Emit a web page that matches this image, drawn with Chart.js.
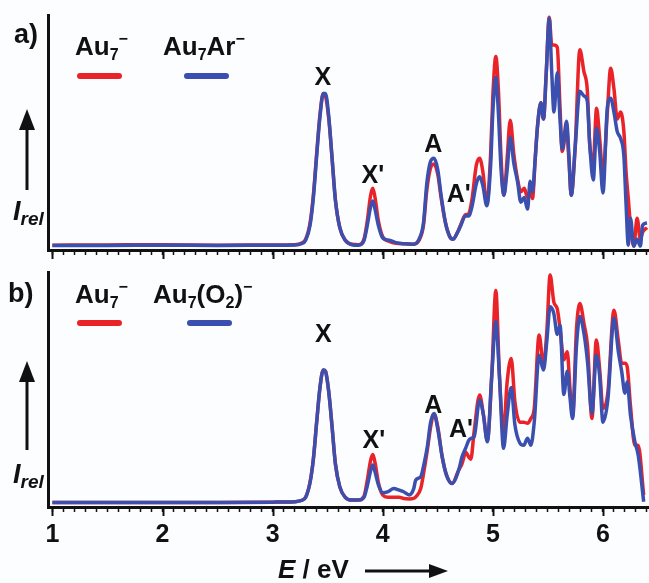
<!DOCTYPE html>
<html>
<head>
<meta charset="utf-8">
<script src="https://cdn.jsdelivr.net/npm/chart.js@4.4.0/dist/chart.umd.min.js"></script>
<style>
  body { margin: 0; background: #fcfdfe; }
  #wrap { position: relative; width: 649px; height: 583px; overflow: hidden;
          font-family: "Liberation Sans", Arial, sans-serif; font-weight: bold; color: #111; }
  canvas { position: absolute; left: 0; }
  .txt { position: absolute; font-size: 26px; line-height: 26px; white-space: nowrap; }
  .txt .sb { font-size: 16px; position: relative; top: 5px; }
  .txt .sp { font-size: 16px; position: relative; top: -11px; }
  .it { font-style: italic; }
  .swatch { position: absolute; height: 6px; width: 45px; border-radius: 3px; }
  svg { position: absolute; left: 0; top: 0; }
</style>
</head>
<body>
<div id="wrap">
  <canvas id="chartA" width="655" height="262" style="top:0"></canvas>
  <canvas id="chartB" width="655" height="321" style="top:262px"></canvas>

  <div class="txt" style="left:14px;top:21px;font-size:27px">a)</div>
  <div class="txt" style="left:75px;top:33px">Au<span class="sb">7</span><span class="sp">−</span></div>
  <div class="swatch" id="swA1" style="left:77px;top:73px"></div>
  <div class="txt" style="left:163px;top:33px">Au<span class="sb">7</span>Ar<span class="sp">−</span></div>
  <div class="swatch" id="swA2" style="left:184px;top:73px"></div>
  <div class="txt it" style="left:13px;top:198px;font-size:27px">I<span class="sb" style="font-size:19px">rel</span></div>

  <div class="txt" style="left:8px;top:280px;font-size:27px">b)</div>
  <div class="txt" style="left:75px;top:281px">Au<span class="sb">7</span><span class="sp">−</span></div>
  <div class="swatch" id="swB1" style="left:77px;top:320px"></div>
  <div class="txt" style="left:153px;top:281px">Au<span class="sb">7</span>(O<span class="sb">2</span>)<span class="sp">−</span></div>
  <div class="swatch" id="swB2" style="left:187px;top:320px"></div>
  <div class="txt it" style="left:13px;top:461px;font-size:27px">I<span class="sb" style="font-size:19px">rel</span></div>

  <div class="txt" style="left:278px;top:556px"><span class="it">E</span> / eV</div>

  <svg width="649" height="583">
    <g stroke="#111" stroke-width="3" fill="#111">
      <line x1="27" y1="190" x2="27" y2="126"/>
      <polygon points="27,109 19,130 35,130" stroke="none"/>
      <line x1="27" y1="450" x2="27" y2="378"/>
      <polygon points="27,361 19,382 35,382" stroke="none"/>
      <line x1="365" y1="571" x2="432" y2="571"/>
      <polygon points="448,571 429,564 429,578" stroke="none"/>
    </g>
  </svg>
</div>

<script>
// photon energy (eV) and relative intensity, panel a
const energyA = [1.00, 1.50, 2.00, 2.50, 3.00, 3.20, 3.26, 3.30, 3.34, 3.37, 3.40, 3.43, 3.46, 3.48, 3.51, 3.54, 3.57, 3.61, 3.66, 3.72, 3.78,
  3.83, 3.86, 3.89, 3.91, 3.93, 3.96, 4.00, 4.06, 4.12, 4.20, 4.28, 4.33, 4.37, 4.40, 4.43, 4.465, 4.50, 4.53, 4.57, 4.61,
  4.64, 4.68, 4.71, 4.75, 4.78, 4.81, 4.85, 4.88, 4.91, 4.945, 4.98, 5.00, 5.027, 5.05, 5.075, 5.10, 5.13, 5.158, 5.19, 5.224,
  5.254, 5.285, 5.315, 5.339, 5.36, 5.385, 5.406, 5.436, 5.46, 5.485, 5.512, 5.535, 5.555, 5.585, 5.61, 5.63, 5.67, 5.69, 5.712, 5.748,
  5.79, 5.827, 5.857, 5.88, 5.912, 5.942, 5.97, 6.00, 6.04, 6.07, 6.10, 6.13, 6.16, 6.19, 6.21, 6.23, 6.25, 6.28, 6.31, 6.34,
  6.36, 6.40];
const au7A = [0.4, 0.5, 0.6, 0.4, 0.5, 0.6, 1.2, 3, 10, 22, 40, 57, 66, 65, 55, 38, 20, 8, 2.5, 0.8, 0.6,
  3, 11, 22, 25, 21, 11, 4, 2, 1.2, 1, 0.8, 2.5, 9, 24, 33, 35.5, 31, 21, 10, 4,
  3, 6, 9.5, 13.5, 14, 20, 35, 38, 32, 18, 40, 65, 82, 68, 38, 22, 38, 54.5, 40, 29,
  23.5, 25, 21, 23.5, 20.6, 38, 52, 62, 55, 75, 99, 87, 87, 86, 60, 41, 51, 38, 22, 43,
  85, 75.5, 68, 44, 36.5, 59.6, 46.6, 31, 58, 77, 68, 55, 58, 49.5, 32, 20.6, 9, 0, 12, 3,
  6, 8];
const au7ArA = [0.3, 0.3, 0.4, 0.3, 0.4, 0.5, 1, 2.5, 9, 21, 39, 56, 66, 66, 56, 38, 20, 8, 2.5, 0.6, 0.4,
  2.5, 9, 17, 19.5, 16, 9, 3.5, 2.5, 1.5, 1, 0.8, 3, 10, 27, 36, 38, 33, 22, 10, 4,
  3, 6, 9, 13, 13, 17, 27, 30, 26, 17.5, 35, 58, 73, 58, 33, 22, 33, 47, 36, 28,
  19, 21, 16, 28, 23.5, 38, 52, 62, 55, 75, 98.5, 75, 58, 75, 55, 42, 54, 40, 22, 43,
  67, 65, 63, 44, 28.6, 51, 41, 23, 60, 64, 58, 49.5, 46.6, 39, 18, 0.4, 12, 0, 3, 0,
  9, 10];

// panel b
const energyB = [1.00, 1.50, 2.00, 2.50, 3.00, 3.20, 3.26, 3.30, 3.34, 3.37, 3.40, 3.43, 3.46, 3.48, 3.51, 3.54, 3.57, 3.61, 3.66, 3.72, 3.78,
  3.83, 3.86, 3.89, 3.91, 3.93, 3.96, 4.00, 4.05, 4.10, 4.15, 4.19, 4.24, 4.28, 4.30, 4.345, 4.375, 4.405, 4.435, 4.466, 4.50,
  4.54, 4.58, 4.63, 4.69, 4.72, 4.755, 4.78, 4.80, 4.83, 4.88, 4.915, 4.95, 4.99, 5.027, 5.06, 5.097, 5.13, 5.167, 5.20, 5.245,
  5.28, 5.315, 5.345, 5.376, 5.42, 5.46, 5.49, 5.52, 5.554, 5.585, 5.61, 5.645, 5.676, 5.70, 5.724, 5.76, 5.79, 5.83, 5.86, 5.90,
  5.94, 5.97, 6.00, 6.045, 6.10, 6.14, 6.17, 6.20, 6.22, 6.25, 6.29, 6.32, 6.37];
const au7B = [0.3, 0.3, 0.3, 0.3, 0.4, 0.6, 1.1, 2.5, 9, 19, 35, 50, 57.6, 57, 48, 33, 17, 7, 2.5, 1.3, 1.3,
  3, 10, 18.5, 21, 17.5, 9, 3.5, 2.5, 2.5, 2.5, 2, 1.8, 2, 2.7, 6.3, 14, 23, 33, 38.5, 33,
  20, 12, 8.5, 14.3, 17, 22, 20, 19, 31, 46.8, 38, 27, 55, 92, 55, 31, 52.5, 62.6, 44, 35,
  35, 34.5, 36.6, 41, 72.7, 59.7, 74, 98.7, 87, 84, 75.6, 62, 65.5, 50, 38, 75.6, 86.4, 77, 68, 36.6,
  70.6, 58, 41, 48, 83.5, 70, 60.5, 60.5, 59, 42, 25, 25, 3.5];
const au7O2B = [0.3, 0.3, 0.3, 0.3, 0.4, 0.6, 1.1, 2.5, 9, 19, 35, 50, 57.6, 57, 48, 33, 17, 7, 2.5, 1.3, 1.3,
  2.5, 7.5, 14, 16.5, 13.5, 8, 4.5, 5, 6.3, 5.6, 4.9, 3.5, 6, 10, 11.4, 17, 24.4, 35, 38.8, 32,
  20, 12, 8.5, 14.3, 20, 24, 27, 28, 28.7, 44.6, 38, 26.5, 55, 78.5, 55, 23.7, 38, 50, 34, 26,
  25, 28, 25, 35, 64, 57.6, 70, 85, 82, 73, 77, 47, 57, 46, 36.6, 68.4, 80.7, 72.7, 61, 38.8,
  64, 55, 35, 45, 80, 65.5, 57, 47.5, 52.5, 38, 26.5, 20.8, 0.6];

const xMajor = [1, 2, 3, 4, 5, 6];
const peakNames = ["X", "X'", "A", "A'"];
const peakEA = [3.455, 3.91, 4.46, 4.69];
const peakIA = [69.7, 27.3, 40.7, 19];
const peakEB = [3.46, 3.92, 4.46, 4.71];
const peakIB = [69.7, 23.8, 39, 28.6];

const RED = "#ea2329";
const BLUE = "#3b4fae";
const INK = "#111";
const FONT = '"Liberation Sans", Arial, sans-serif';

document.getElementById("swA1").style.background = RED;
document.getElementById("swB1").style.background = RED;
document.getElementById("swA2").style.background = BLUE;
document.getElementById("swB2").style.background = BLUE;

function pts(xs, ys) {
    return xs.map((x, i) => ({ x: x, y: ys[i] }));
}

function series(label, xs, ys, color, order) {
    return {
        label: label,
        data: pts(xs, ys),
        borderColor: color,
        borderWidth: 3.5,
        pointRadius: 0,
        cubicInterpolationMode: "monotone",
        order: order,
    };
}

// peak letters and the longer tick marks at whole eV
function panelDecor(names, es, is) {
    return {
        id: "panelDecor",
        afterDraw(chart) {
            const { ctx, chartArea } = chart;
            const x = chart.scales.x;
            const y = chart.scales.y;
            ctx.save();
            ctx.strokeStyle = INK;
            ctx.lineWidth = 2;
            xMajor.forEach((v) => {
                const px = Math.round(x.getPixelForValue(v)) + 0.5;
                ctx.beginPath();
                ctx.moveTo(px, chartArea.bottom);
                ctx.lineTo(px, chartArea.bottom + 9);
                ctx.stroke();
            });
            ctx.fillStyle = INK;
            ctx.font = "bold 25px " + FONT;
            ctx.textAlign = "center";
            ctx.textBaseline = "alphabetic";
            names.forEach((n, i) => {
                ctx.fillText(n, x.getPixelForValue(es[i]), y.getPixelForValue(is[i]));
            });
            ctx.restore();
        },
    };
}

function makeChart(id, datasets, decor, showLabels, padTop, axisHeight) {
    return new Chart(document.getElementById(id), {
        type: "line",
        data: { datasets: datasets },
        options: {
            responsive: false,
            animation: false,
            events: [],
            layout: { autoPadding: false, padding: { top: padTop, right: 1, left: 0, bottom: 0 } },
            plugins: { legend: { display: false }, tooltip: { enabled: false } },
            scales: {
                x: {
                    type: "linear",
                    min: 0.96,
                    max: 6.42,
                    afterFit: (s) => { s.height = axisHeight; },
                    border: { display: true, color: INK, width: 3 },
                    grid: { drawOnChartArea: false, drawTicks: true, tickLength: 5, tickWidth: 1.5, tickColor: INK },
                    ticks: {
                        stepSize: 0.1,
                        autoSkip: false,
                        maxRotation: 0,
                        includeBounds: false,
                        padding: 8,
                        color: INK,
                        font: { family: FONT, size: 25, weight: "bold" },
                        callback: (v) => {
                            if (!showLabels) return "";
                            const r = Math.round(v);
                            return Math.abs(v - r) < 1e-6 && xMajor.includes(r) ? String(r) : "";
                        },
                    },
                },
                y: {
                    min: -1.7,
                    max: 100,
                    afterFit: (s) => { s.width = 48; },
                    border: { display: true, color: INK, width: 3 },
                    grid: { display: false },
                    ticks: { display: false },
                },
            },
        },
        plugins: [decor],
    });
}

makeChart("chartA", [
    series("Au7−", energyA, au7A, RED, 1),
    series("Au7Ar−", energyA, au7ArA, BLUE, 0),
], panelDecor(peakNames, peakEA, peakIA), false, 15, 12);

makeChart("chartB", [
    series("Au7−", energyB, au7B, RED, 1),
    series("Au7(O2)−", energyB, au7O2B, BLUE, 0),
], panelDecor(peakNames, peakEB, peakIB), true, 10, 76);
</script>
</body>
</html>
